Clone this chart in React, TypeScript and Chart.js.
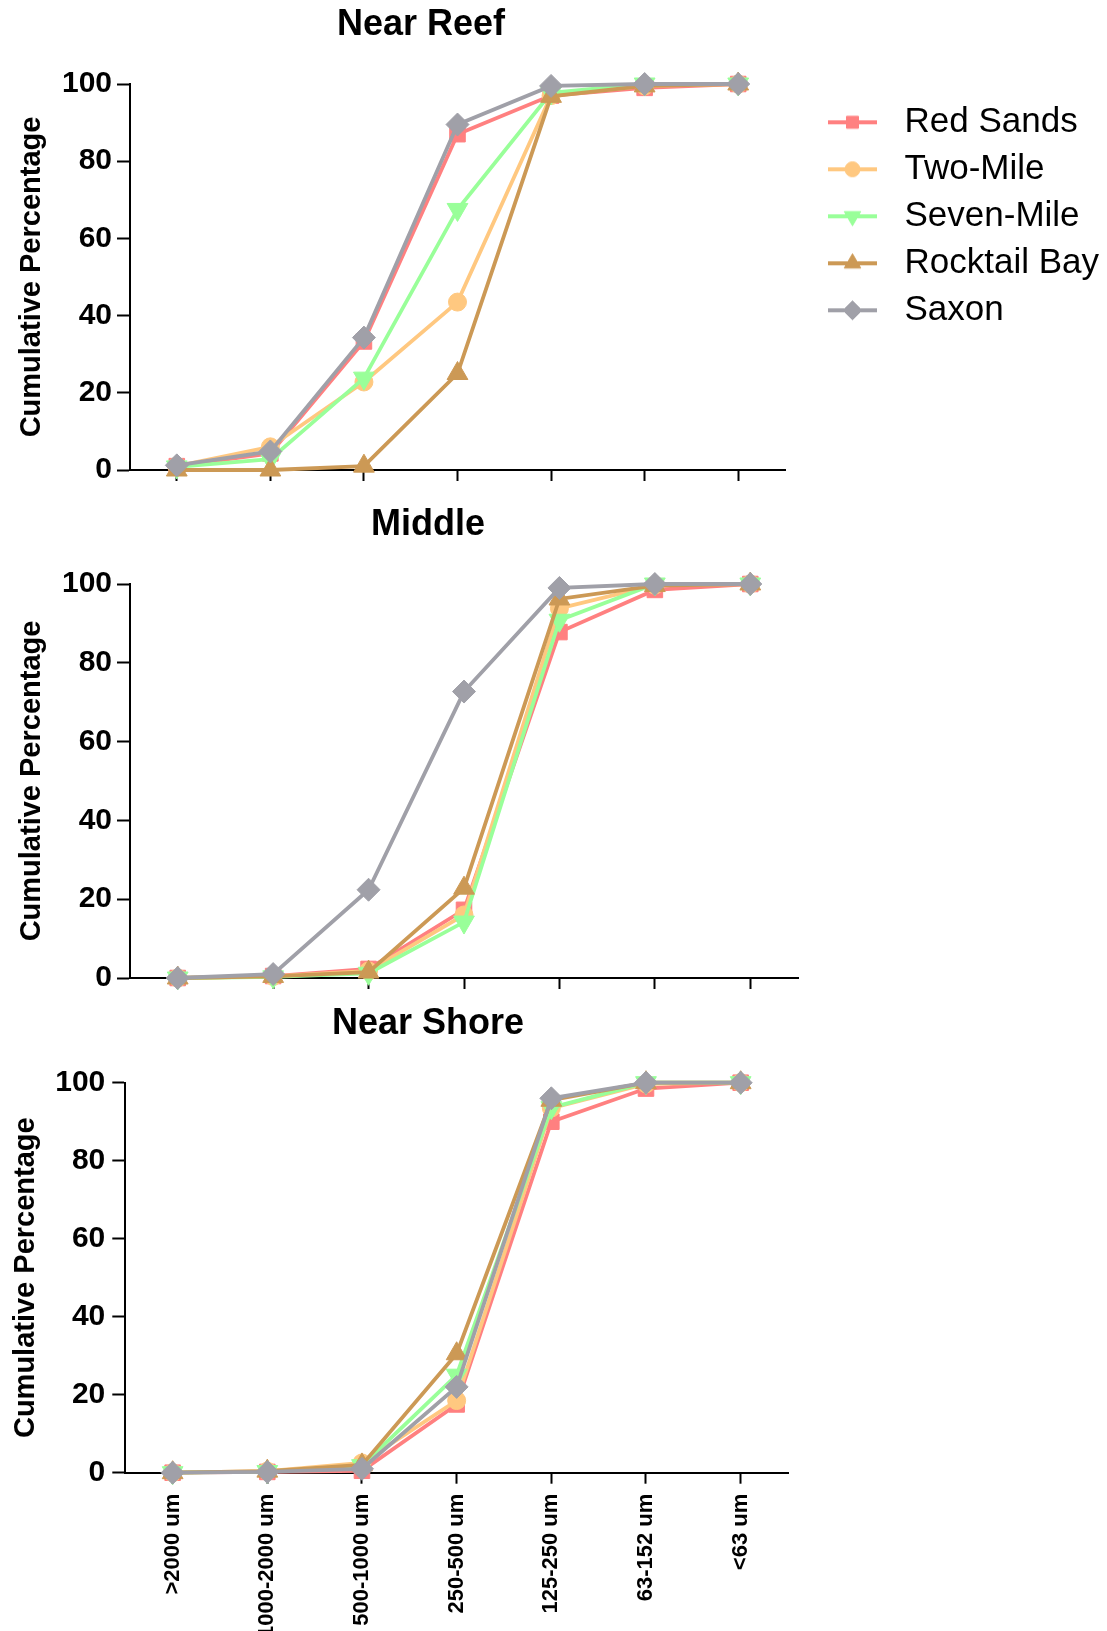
import React, { useEffect, useRef } from 'react';
import { Chart, registerables } from 'chart.js';
import { drawPoint } from 'chart.js/helpers';

Chart.register(...registerables);

// ---------------- data ----------------
const categories = ['>2000 um', '1000-2000 um', '500-1000 um', '250-500 um', '125-250 um', '63-152 um', '<63 um'];
const seriesNames = ['Red Sands', 'Two-Mile', 'Seven-Mile', 'Rocktail Bay', 'Saxon'];
const panelTitles = ['Near Reef', 'Middle', 'Near Shore'];
const yAxisTitle = 'Cumulative Percentage';
const yTickValues = [0, 20, 40, 60, 80, 100];

const nearReefRedSands = [1, 4.3, 33.3, 87, 97, 99, 100];
const nearReefTwoMile = [1, 6, 22.8, 43.5, 97, 99.5, 100];
const nearReefSevenMile = [0.8, 2.8, 23.8, 67.5, 97.7, 100, 100];
const nearReefRocktail = [0, 0, 1, 25, 96.8, 99.5, 100];
const nearReefSaxon = [1.2, 4.8, 34.3, 89.5, 99.5, 100, 100];

const middleRedSands = [0, 0.5, 2.3, 17.3, 87.8, 98.5, 100];
const middleTwoMile = [0, 0.4, 1.8, 16, 93.8, 99.7, 100];
const middleSevenMile = [0, 0.3, 1.2, 14.2, 90.8, 100, 100];
const middleRocktail = [0, 0.4, 1.5, 22.8, 96.2, 99.6, 100];
const middleSaxon = [0, 1, 22.4, 72.7, 99, 100, 100];

const nearShoreRedSands = [0, 0.2, 0.5, 17.5, 90, 98.5, 100];
const nearShoreTwoMile = [0, 0.4, 2.5, 18.5, 93.5, 99.7, 100];
const nearShoreSevenMile = [0, 0.3, 1.8, 25, 93.6, 100, 100];
const nearShoreRocktail = [0, 0.4, 2, 30.5, 95.5, 100, 100];
const nearShoreSaxon = [0, 0.2, 1, 22, 96, 100, 100];

const panelValues = [
  [nearReefRedSands, nearReefTwoMile, nearReefSevenMile, nearReefRocktail, nearReefSaxon],
  [middleRedSands, middleTwoMile, middleSevenMile, middleRocktail, middleSaxon],
  [nearShoreRedSands, nearShoreTwoMile, nearShoreSevenMile, nearShoreRocktail, nearShoreSaxon],
];

// ---------------- styles ----------------
const FONT = "'Liberation Sans', Arial, Helvetica, sans-serif";
const COLORS = ['#FF8080', '#FFC880', '#99FF99', '#CC9955', '#A0A0A8'];
const POINT_STYLES = ['rect', 'circle', 'triangle', 'triangle', 'rectRot'];
const POINT_ROTATIONS = [0, 0, 180, 0, 0];
const POINT_RADII = [11, 9, 12, 12, 11.5];
const LEGEND_RADII = [8.5, 7.5, 9.5, 9.5, 9.5];
const DRAW_ORDER = [4, 3, 2, 1, 0];
const LINE_WIDTH = 3.8;

const TITLE_SIZE = 36;
const AXIS_FONT_SIZE = 29;
const TICK_FONT_SIZE = 30;
const LEGEND_FONT_SIZE = 35;
const LEGEND_GAP = 12;

const PANELS = [
  { top: 0, height: 500, width: 1107, plotTop: 84, plotBottom: 470, plotLeft: 130, plotRight: 785, titleX: 421, titleY: 25.4, yTitleX: 32, yLabelPad: 5, showX: false, legend: true, legendFirstY: 122.3 },
  { top: 490, height: 520, width: 860, plotTop: 584, plotBottom: 978, plotLeft: 130, plotRight: 798, titleX: 428, titleY: 525, yTitleX: 32, yLabelPad: 5, showX: false, legend: false, legendFirstY: 0 },
  { top: 1000, height: 631, width: 860, plotTop: 1082.7, plotBottom: 1472.7, plotLeft: 125.3, plotRight: 788, titleX: 428, titleY: 1024, yTitleX: 26, yLabelPad: 7, showX: true, legend: false, legendFirstY: 0 },
];

const panelPlacer = {
  id: 'panelPlacer',
  afterLayout(chart: any, _args: any, opts: any) {
    const t = chart.titleBlock;
    if (t && typeof opts.titleX === 'number') {
      const half = (t.right - t.left) / 2;
      t.left = opts.titleX - half;
      t.right = opts.titleX + half;
    }
    const lg = chart.legend;
    if (lg && opts.legend && typeof opts.legendTop === 'number') {
      lg.top = opts.legendTop;
      lg.right = chart.width;
      lg.width = lg.right - lg.left;
    }
  },
};

function makeIcon(i: number): HTMLCanvasElement {
  const c = document.createElement('canvas');
  c.width = 90;
  c.height = 26;
  const ctx = c.getContext('2d') as CanvasRenderingContext2D;
  ctx.strokeStyle = COLORS[i];
  ctx.fillStyle = COLORS[i];
  ctx.lineWidth = LINE_WIDTH;
  ctx.beginPath();
  ctx.moveTo(31, 13);
  ctx.lineTo(80, 13);
  ctx.stroke();
  ctx.lineWidth = 1;
  drawPoint(ctx, { pointStyle: POINT_STYLES[i] as any, rotation: POINT_ROTATIONS[i], radius: LEGEND_RADII[i], borderWidth: 1 } as any, 55.5, 13);
  return c;
}

function buildConfig(k: number, icons: HTMLCanvasElement[]): any {
  const p = PANELS[k];
  const plotTopRel = p.plotTop - p.top;
  const plotBottomRel = p.plotBottom - p.top;
  const titleYRel = p.titleY - p.top;
  const titleLH = TITLE_SIZE * 1.2;
  const titlePadTop = titleYRel - titleLH / 2;
  const titlePadBottom = plotTopRel - titleLH - titlePadTop;
  const axisLH = AXIS_FONT_SIZE * 1.2;
  // a right-hand legend is limited by Chart.js to a quarter of the available width here
  const rightPad = p.legend ? p.width - p.plotRight / 0.75 : p.width - p.plotRight;
  const legendTop = p.legendFirstY - LEGEND_GAP - LEGEND_FONT_SIZE / 2;

  const datasets = seriesNames.map((name, i) => ({
    label: name,
    data: panelValues[k][i],
    borderColor: COLORS[i],
    backgroundColor: COLORS[i],
    pointBackgroundColor: COLORS[i],
    pointBorderColor: COLORS[i],
    pointBorderWidth: 1,
    pointStyle: POINT_STYLES[i],
    pointRotation: POINT_ROTATIONS[i],
    pointRadius: POINT_RADII[i],
    pointHoverRadius: POINT_RADII[i],
    borderWidth: LINE_WIDTH,
    tension: 0,
    fill: false,
    order: DRAW_ORDER[i],
    clip: false,
  }));

  return {
    type: 'line',
    data: { labels: categories, datasets },
    plugins: [panelPlacer],
    options: {
      responsive: false,
      animation: false,
      events: [],
      layout: {
        padding: { left: 0, top: 0, bottom: 0, right: rightPad },
      },
      plugins: {
        panelPlacer: { titleX: p.titleX, legend: p.legend, legendTop },
        tooltip: { enabled: false },
        title: {
          display: true,
          text: panelTitles[k],
          color: '#000',
          font: { family: FONT, size: TITLE_SIZE, weight: 'bold' },
          padding: { top: titlePadTop, bottom: titlePadBottom },
        },
        legend: {
          display: p.legend,
          position: 'right',
          align: 'start',
          labels: {
            usePointStyle: true,
            pointStyleWidth: 90,
            padding: LEGEND_GAP,
            color: '#000',
            font: { family: FONT, size: LEGEND_FONT_SIZE },
            sort: (a: any, b: any) => a.datasetIndex - b.datasetIndex,
            generateLabels: (chart: any) => {
              const items = (Chart as any).defaults.plugins.legend.labels.generateLabels(chart);
              return items.map((it: any) => ({ ...it, pointStyle: icons[it.datasetIndex], rotation: 0 }));
            },
          },
        },
      },
      scales: {
        x: {
          type: 'category',
          offset: true,
          grid: { display: true, drawOnChartArea: false, drawTicks: true, tickLength: 11, tickWidth: 2, tickColor: '#000', offset: false },
          border: { display: true, color: '#000', width: 2 },
          ticks: {
            display: p.showX,
            autoSkip: false,
            minRotation: 90,
            maxRotation: 90,
            padding: 10,
            color: '#000',
            font: { family: FONT, size: 22, weight: 'bold' },
          },
          afterFit: (scale: any) => {
            scale.height = p.height - plotBottomRel;
          },
        },
        y: {
          min: 0,
          max: 100,
          afterBuildTicks: (scale: any) => {
            scale.ticks = yTickValues.map((v) => ({ value: v }));
          },
          grid: { display: true, drawOnChartArea: false, drawTicks: true, tickLength: 13, tickWidth: 2, tickColor: '#000' },
          border: { display: true, color: '#000', width: 2 },
          ticks: {
            padding: p.yLabelPad,
            color: '#000',
            font: { family: FONT, size: TICK_FONT_SIZE, weight: 'bold' },
          },
          title: {
            display: true,
            text: yAxisTitle,
            color: '#000',
            font: { family: FONT, size: AXIS_FONT_SIZE, weight: 'bold' },
            padding: { top: p.yTitleX - axisLH / 2, bottom: 0 },
          },
          afterFit: (scale: any) => {
            scale.width = p.plotLeft;
          },
        },
      },
    },
  };
}

export default function App() {
  const refs = useRef<(HTMLCanvasElement | null)[]>([]);

  useEffect(() => {
    const icons = seriesNames.map((_, i) => makeIcon(i));
    const charts = PANELS.map((_, k) => new Chart(refs.current[k] as HTMLCanvasElement, buildConfig(k, icons)));
    return () => charts.forEach((c) => c.destroy());
  }, []);

  return (
    <div style={{ position: 'absolute', left: 0, top: 0, width: 1107, height: 1631, background: '#fff', overflow: 'hidden' }}>
      {PANELS.map((p, k) => (
        <canvas
          key={k}
          ref={(el) => { refs.current[k] = el; }}
          width={p.width}
          height={p.height}
          style={{ position: 'absolute', left: 0, top: p.top, width: p.width, height: p.height }}
        />
      ))}
    </div>
  );
}
